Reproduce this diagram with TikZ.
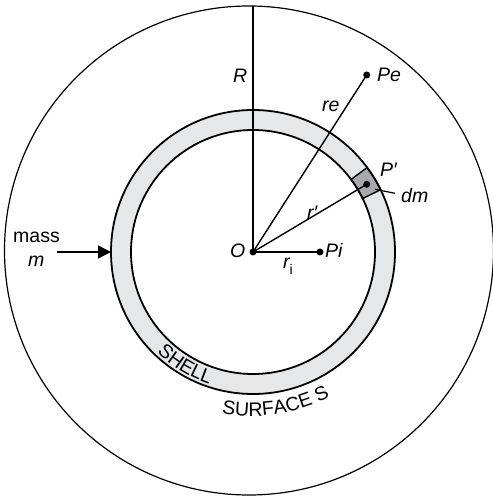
\documentclass[tikz,border=0pt]{standalone}
\usepackage{fontspec}
\setmainfont{Liberation Sans}
\usetikzlibrary{decorations.text,arrows.meta}
\definecolor{ringgray}{HTML}{E6E7E8}
\definecolor{dmgray}{HTML}{A7A9AC}
\begin{document}
\begin{tikzpicture}[x=1pt,y=1pt,
  lbl/.style={font=\fontsize{19.5}{22}\selectfont\itshape, inner sep=0pt, anchor=base west},
  txt/.style={font=\fontsize{19.5}{22}\selectfont, inner sep=0pt, anchor=base west},
  dot/.style={circle, fill=black, inner sep=0pt, minimum size=7pt},
  thinln/.style={line width=1.2pt},
  radln/.style={line width=1.4pt},
  shellln/.style={line width=1.8pt}]
\useasboundingbox (0,0) rectangle (493,496);
\coordinate (O) at (253,244);
\coordinate (C) at (249,245.5);
\coordinate (Rtop) at (253,490);
% outer surface S
\draw[thinln] (C) circle[radius=244.5];
% shell ring
\fill[ringgray, even odd rule] (O) circle[radius=142] (O) circle[radius=122];
% mass element dm
\filldraw[fill=dmgray, radln] ([shift={(26:122)}]O) arc[start angle=26,end angle=36.5,radius=122]
  -- ([shift={(36.5:142)}]O) arc[start angle=36.5,end angle=26,radius=142] -- cycle;
% points
\node[dot] (Pe) at (366.7,421) {};
\node[dot] (Pp) at (366.7,311.7) {};
\node[dot] (Pi) at (320,244) {};
\node[dot] (Od) at (O) {};
% radial lines
\draw[radln] (O) -- (Rtop);
\draw[radln] (O) -- (Pe.center);
\draw[radln] (O) -- (Pp.center);
\draw[radln] (O) -- (Pi.center);
% shell boundaries
\draw[shellln] (O) circle[radius=142];
\draw[shellln] (O) circle[radius=122];
% dm leader
\coordinate (dmA) at (375,306.7);
\coordinate (dmB) at (395,302.7);
\draw[thinln] (dmA) -- (dmB);
% arrow for mass m
\coordinate (mtail) at (57,244);
\coordinate (mtip) at (111,244);
\draw[radln, -{Triangle[length=13pt,width=13pt]}] (mtail) -- (mtip);
% labels
\node[lbl] (Rl) at (233,413) {R};
\node[lbl] (Pel) at (377,414.3) {Pe};
\node[lbl] (rel) at (322,384.3) {re};
\node[lbl] (Ppl) at (380,319.3) {P′};
\node[lbl] (dml) at (401,293.3) {dm};
\node[lbl] (rpl) at (307,276) {r′};
\node[lbl] (Ol) at (230,238) {O};
\node[lbl] (Pil) at (325,238) {Pi};
\node[lbl] (ril) at (283,227.7) {r\raisebox{-6.5pt}{\upshape\fontsize{14}{15}\selectfont i}};
\node[txt] (massl) at (13,253) {mass};
\node[lbl] (ml) at (28,229) {m};
% curved texts
\path[decorate, decoration={text along path, text={|\fontsize{19.5}{22}\selectfont|SHELL}, text align=center}]
  ([shift={(214:139)}]O) arc[start angle=214,end angle=264,radius=139];
\path[decorate, decoration={text along path, text={|\fontsize{19.5}{22}\selectfont|SURFACE S}, text align=center}]
  ([shift={(255:164)}]O) arc[start angle=255,end angle=302,radius=164];
\end{tikzpicture}
\end{document}
